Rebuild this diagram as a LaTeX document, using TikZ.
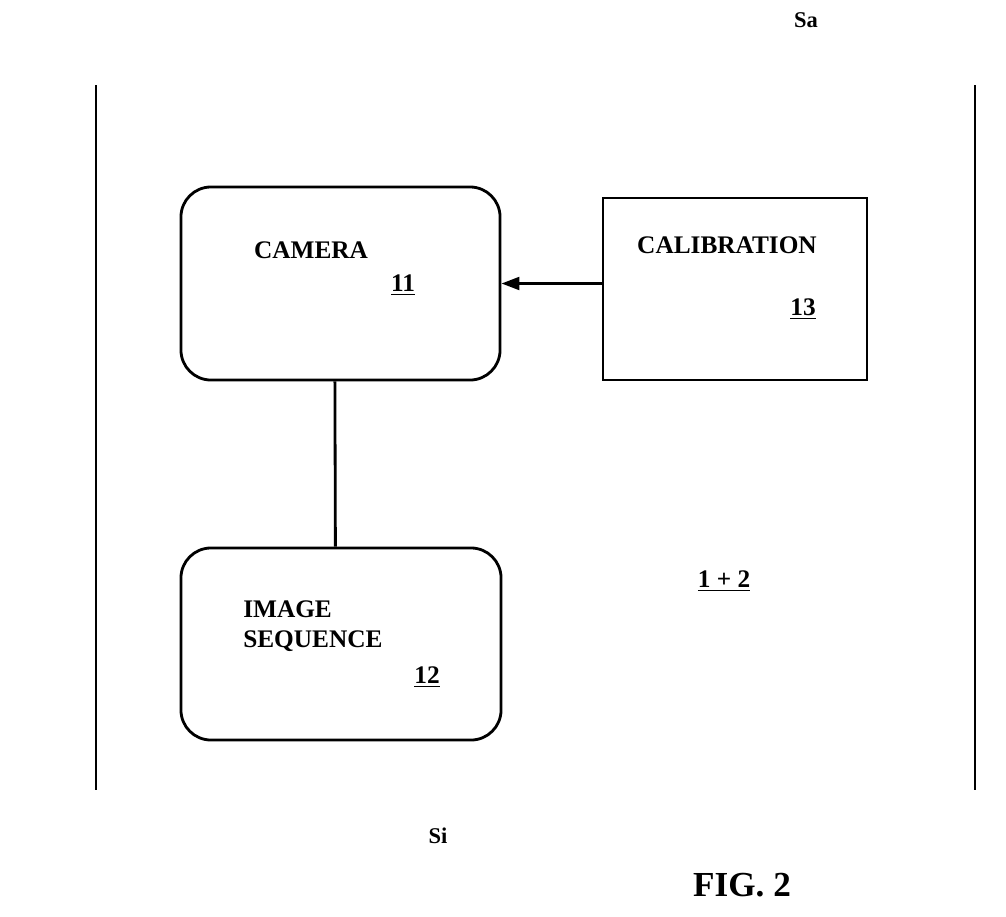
\documentclass[tikz,border=0pt]{standalone}
\usepackage{fontspec}
\setmainfont{Liberation Serif}
\usetikzlibrary{positioning,arrows.meta}

\begin{document}
\begin{tikzpicture}
		[x=0.025cm, y=-0.025cm,
		font=\bfseries\fontsize{18}{21}\selectfont,
		every node/.style={inner sep=0pt},
		block/.style={draw, line width=2pt, rounded corners=0.75cm},
		plainblock/.style={draw, line width=2pt},
		link/.style={line width=2pt},
		border/.style={line width=2pt},
		]
		\useasboundingbox (0,0) rectangle (1006,916);
		% side borders
		\draw[border] (96,85) -- (96,790);
		\draw[border] (975,85) -- (975,790);
		
		\node[block, minimum width=7.975cm, minimum height=4.825cm] (cam) at (340.5,283.5) {};
		\node[plainblock, minimum width=6.6cm, minimum height=4.55cm] (cal) at (735,289) {};
		\node[block, minimum width=8cm, minimum height=4.8cm] (seq) at (341,644) {};
		
		\node (camtxt) at (311,250) {CAMERA};
		\node (camnum) at (403,285) {\underline{11}};
		\node (caltxt) at (727,245) {CALIBRATION};
		\node (calnum) at (803,309) {\underline{13}};
		\node[anchor=west, align=left] (seqtxt) at (243,626) {IMAGE\\SEQUENCE};
		\node (seqnum) at (427,677) {\underline{12}};
		\node (sys) at (724,581) {\underline{1 + 2}};
		\node[font=\bfseries\fontsize{16}{19}\selectfont] (sa) at (806,20) {Sa};
		\node[font=\bfseries\fontsize{16}{19}\selectfont] (si) at (438,836) {Si};
		\node[font=\bfseries\fontsize{25}{29}\selectfont] (fig) at (742,885) {FIG. 2};
		
		% connectors
		\draw[link, -{Triangle[length=0.45cm,width=0.32cm]}] (cal.west |- cam.east) -- (cam.east);
		\draw[link] ([xshift=-0.14cm]cam.south) -- ([xshift=-0.14cm]seq.north);
		
	\end{tikzpicture}
\end{document}
